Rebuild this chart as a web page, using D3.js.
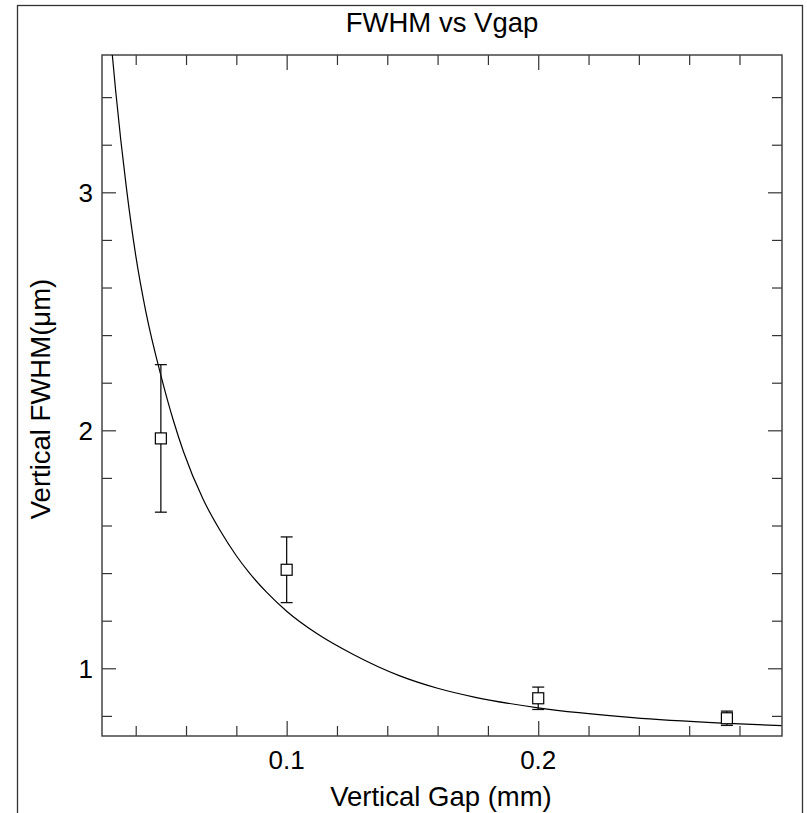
<!DOCTYPE html>
<html>
<head>
<meta charset="utf-8">
<script src="https://cdn.jsdelivr.net/npm/d3@7/dist/d3.min.js"></script>
<style>
  html, body { margin: 0; padding: 0; background: #fff; }
  svg { display: block; }
  text { font-family: "Liberation Sans", Arial, Helvetica, sans-serif; fill: #000; }
</style>
</head>
<body>
<script>
// ---- data ----
const gapMm   = [0.05, 0.1, 0.2, 0.275];
const fwhmUm  = [1.966, 1.414, 0.874, 0.79];
const fwhmErr = [0.31, 0.138, 0.047, 0.03];

const fitGap  = [0.0307, 0.0320, 0.0364, 0.0400, 0.0440, 0.0499, 0.0550, 0.0590, 0.0668, 0.0735, 0.0800, 0.0850, 0.0920, 0.1000, 0.1120, 0.1265, 0.1450, 0.1600, 0.1750, 0.2000, 0.2376, 0.2729, 0.2967];
const fitFwhm = [3.577, 3.430, 3.010, 2.735, 2.500, 2.235, 2.040, 1.910, 1.710, 1.580, 1.473, 1.403, 1.320, 1.240, 1.146, 1.058, 0.968, 0.916, 0.878, 0.834, 0.793, 0.770, 0.759];

const xMajorTicks = [0.1, 0.2];
const xMinorTicks = [0.04, 0.06, 0.08, 0.12, 0.14, 0.16, 0.18, 0.22, 0.24, 0.26, 0.28];
const yMajorTicks = [1, 2, 3];
const yMinorTicks = [0.8, 1.2, 1.4, 1.6, 1.8, 2.2, 2.4, 2.6, 2.8, 3.2, 3.4];

const titleText = "FWHM vs Vgap";
const xTitle = "Vertical Gap (mm)";
const yTitle = "Vertical FWHM(\u03bcm)";

// ---- layout ----
const W = 807, H = 813;
const L = 102, R = 782, T = 55, B = 736;

const svg = d3.select("body").append("svg").attr("width", W).attr("height", H);

// outer frame
svg.append("rect").attr("x", 17.5).attr("y", 5.5).attr("width", 785).attr("height", 820)
  .attr("fill", "none").attr("stroke", "#333").attr("stroke-width", 1.3);

const x = d3.scaleLinear().domain([0.0266, 0.2969]).range([L, R]);
const y = d3.scaleLinear().domain([0.7155, 3.577]).range([B, T]);

const tickColor = "#333";
function styleAxis(g) {
  g.select(".domain").remove();
  g.selectAll(".tick line").attr("stroke", tickColor).attr("stroke-width", 1.2);
  g.selectAll(".tick text").remove();
}

// bottom
svg.append("g").attr("transform", `translate(0,${B})`)
  .call(d3.axisBottom(x).tickValues(xMajorTicks).tickSize(-15).tickFormat(""))
  .call(styleAxis);
svg.append("g").attr("transform", `translate(0,${B})`)
  .call(d3.axisBottom(x).tickValues(xMinorTicks).tickSize(-10).tickFormat(""))
  .call(styleAxis);
// top
svg.append("g").attr("transform", `translate(0,${T})`)
  .call(d3.axisTop(x).tickValues(xMajorTicks).tickSize(-15).tickFormat(""))
  .call(styleAxis);
svg.append("g").attr("transform", `translate(0,${T})`)
  .call(d3.axisTop(x).tickValues(xMinorTicks).tickSize(-10).tickFormat(""))
  .call(styleAxis);
// left
svg.append("g").attr("transform", `translate(${L},0)`)
  .call(d3.axisLeft(y).tickValues(yMajorTicks).tickSize(-14).tickFormat(""))
  .call(styleAxis);
svg.append("g").attr("transform", `translate(${L},0)`)
  .call(d3.axisLeft(y).tickValues(yMinorTicks).tickSize(-10).tickFormat(""))
  .call(styleAxis);
// right
svg.append("g").attr("transform", `translate(${R},0)`)
  .call(d3.axisRight(y).tickValues(yMajorTicks).tickSize(-14).tickFormat(""))
  .call(styleAxis);
svg.append("g").attr("transform", `translate(${R},0)`)
  .call(d3.axisRight(y).tickValues(yMinorTicks).tickSize(-10).tickFormat(""))
  .call(styleAxis);

// plot box
svg.append("rect").attr("x", L).attr("y", T).attr("width", R - L).attr("height", B - T)
  .attr("fill", "none").attr("stroke", "#444").attr("stroke-width", 1.5);

// tick labels
svg.append("g").selectAll("text").data(xMajorTicks).join("text")
  .attr("x", d => x(d)).attr("y", 769)
  .attr("text-anchor", "middle").attr("font-size", 26)
  .text(d => d3.format(".1f")(d));
svg.append("g").selectAll("text").data(yMajorTicks).join("text")
  .attr("x", 93).attr("y", d => y(d)).attr("dy", "0.36em")
  .attr("text-anchor", "end").attr("font-size", 26)
  .text(d => d);

// titles
svg.append("text").attr("x", 442).attr("y", 32).attr("text-anchor", "middle")
  .attr("font-size", 27.5).text(titleText);
svg.append("text").attr("x", 441).attr("y", 806).attr("text-anchor", "middle")
  .attr("font-size", 27.5).text(xTitle);
svg.append("text").attr("transform", `translate(50,399) rotate(-90)`)
  .attr("text-anchor", "middle").attr("font-size", 27.5).text(yTitle);

// clip
svg.append("clipPath").attr("id", "clip").append("rect")
  .attr("x", L).attr("y", T).attr("width", R - L).attr("height", B - T);

// fit curve
const fitData = fitGap.map((g, i) => [g, fitFwhm[i]]);
svg.append("path").datum(fitData)
  .attr("clip-path", "url(#clip)")
  .attr("fill", "none").attr("stroke", "#000").attr("stroke-width", 1.2)
  .attr("d", d3.line().x(d => x(d[0])).y(d => y(d[1])).curve(d3.curveMonotoneX));

// error bars + markers
const pts = gapMm.map((g, i) => ({ g, v: fwhmUm[i], e: fwhmErr[i] }));
const eg = svg.append("g").attr("stroke", "#111").attr("stroke-width", 1.3);
eg.selectAll("line.v").data(pts).join("line").attr("class", "v")
  .attr("x1", d => x(d.g)).attr("x2", d => x(d.g))
  .attr("y1", d => y(d.v + d.e)).attr("y2", d => y(d.v - d.e));
eg.selectAll("line.t").data(pts).join("line").attr("class", "t")
  .attr("x1", d => x(d.g) - 6).attr("x2", d => x(d.g) + 6)
  .attr("y1", d => y(d.v + d.e)).attr("y2", d => y(d.v + d.e));
eg.selectAll("line.b").data(pts).join("line").attr("class", "b")
  .attr("x1", d => x(d.g) - 6).attr("x2", d => x(d.g) + 6)
  .attr("y1", d => y(d.v - d.e)).attr("y2", d => y(d.v - d.e));

svg.append("g").selectAll("rect").data(pts).join("rect")
  .attr("x", d => x(d.g) - 5.5).attr("y", d => y(d.v) - 5.5)
  .attr("width", 11).attr("height", 11)
  .attr("fill", "#fff").attr("stroke", "#000").attr("stroke-width", 1.2);
</script>
</body>
</html>
